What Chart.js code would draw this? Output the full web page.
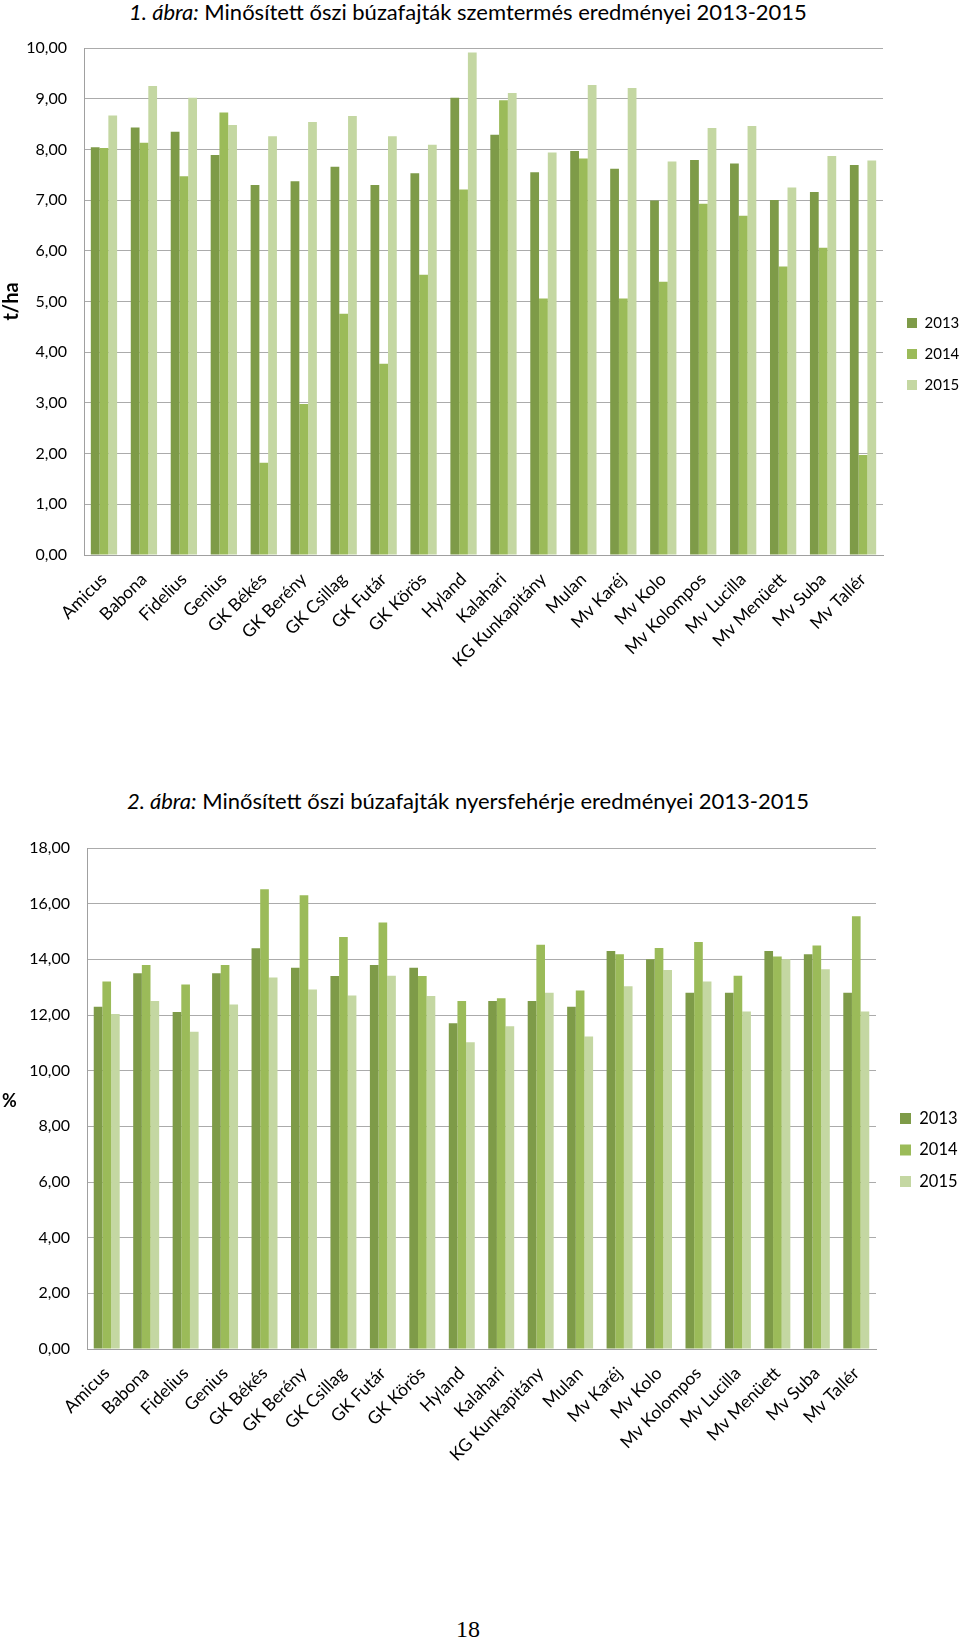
<!DOCTYPE html>
<html>
<head>
<meta charset="utf-8">
<script src="https://cdn.jsdelivr.net/npm/chart.js@4.4.0/dist/chart.umd.min.js"></script>
<style>
  body { margin: 0; background: #fff; width: 960px; height: 1639px; position: relative; overflow: hidden; font-family: Lato, sans-serif; color: #000; }
  .title { position: absolute; left: 0; width: 936px; text-align: center; font-size: 22px; line-height: 26px; }
  .box { position: absolute; left: 0; width: 960px; }
  #pct { position: absolute; left: 2px; top: 1089px; font-weight: bold; font-size: 18px; }
  #page { position: absolute; left: 0; width: 936px; top: 1616px; text-align: center; font-family: "Liberation Serif", serif; font-size: 24px; }
</style>
</head>
<body>
<div class="title" style="top:-1px"><i>1. ábra:</i> Minősített őszi búzafajták szemtermés eredményei 2013-2015</div>
<div class="box" style="top:30px;height:670px"><canvas id="yieldChart"></canvas></div>

<div class="title" style="top:788px"><i>2. ábra:</i> Minősített őszi búzafajták nyersfehérje eredményei 2013-2015</div>
<div class="box" style="top:820px;height:680px"><canvas id="proteinChart"></canvas></div>
<div id="pct">%</div>
<div id="page">18</div>

<script>
const varieties = ["Amicus", "Babona", "Fidelius", "Genius", "GK Békés", "GK Berény", "GK Csillag", "GK Futár",
    "GK Körös", "Hyland", "Kalahari", "KG Kunkapitány", "Mulan", "Mv Karéj", "Mv Kolo", "Mv Kolompos",
    "Mv Lucilla", "Mv Menüett", "Mv Suba", "Mv Tallér"];
const years = ["2013", "2014", "2015"];
const yearColors = ["#7e9b48", "#9bbb59", "#c4d7a2"];

// * szemtermés, t/ha
const yield2013 = [8.04, 8.43, 8.35, 7.89, 7.30, 7.37, 7.66, 7.30, 7.53, 9.02, 8.29, 7.55, 7.97, 7.62, 6.99, 7.79, 7.72, 7.00, 7.16, 7.69];
const yield2014 = [8.03, 8.13, 7.47, 8.73, 1.82, 2.98, 4.76, 3.77, 5.53, 7.21, 8.97, 5.06, 7.82, 5.06, 5.39, 6.93, 6.69, 5.69, 6.06, 1.97];
const yield2015 = [8.67, 9.25, 9.02, 8.48, 8.26, 8.54, 8.66, 8.26, 8.09, 9.91, 9.11, 7.94, 9.27, 9.21, 7.76, 8.42, 8.46, 7.25, 7.87, 7.78];

// * nyersfehérje, %
const protein2013 = [12.30, 13.50, 12.11, 13.50, 14.40, 13.70, 13.40, 13.80, 13.70, 11.70, 12.50, 12.50, 12.30, 14.30, 14.00, 12.80, 12.80, 14.30, 14.18, 12.80];
const protein2014 = [13.20, 13.80, 13.10, 13.80, 16.52, 16.30, 14.80, 15.32, 13.40, 12.50, 12.60, 14.52, 12.88, 14.18, 14.41, 14.62, 13.41, 14.10, 14.50, 15.55];
const protein2015 = [12.04, 12.50, 11.40, 12.38, 13.35, 12.92, 12.70, 13.41, 12.68, 11.02, 11.60, 12.80, 11.23, 13.03, 13.62, 13.20, 12.13, 14.00, 13.64, 12.13];

const yieldMax = 10, yieldStep = 1;
const proteinMax = 18, proteinStep = 2;

const fmt = (v) => v.toFixed(2).replace(".", ",");

function makeChart(id, series, yMax, yStep, axisTitle, g) {
    const padding = { top: g.top, left: 0, right: 0, bottom: 0 };

    // * Fixed legend box so the plot keeps its place
    const layoutFix = {
        id: "layoutFix",
        beforeInit(chart) {
            const lg = chart.legend;
            const fit = lg.fit;
            lg.fit = function () {
                fit.call(this);
                this.width = g.width - g.right;
            };
        },
        afterLayout(chart) {
            const lg = chart.legend;
            const dx = g.legendX - g.legendPad - lg.left;
            const dy = g.legendMid - (lg.top + lg.bottom) / 2;
            lg.left += dx; lg.right += dx;
            lg.top += dy; lg.bottom += dy;
        },
    };

    const chart = new Chart(document.getElementById(id), {
        type: "bar",
        data: {
            labels: varieties,
            datasets: series.map((data, i) => ({
                label: years[i],
                data: data,
                backgroundColor: yearColors[i],
                borderWidth: 0,
                categoryPercentage: 0.658,
                barPercentage: 1.0,
            })),
        },
        options: {
            responsive: true,
            maintainAspectRatio: false,
            animation: false,
            layout: { padding: padding },
            plugins: {
                legend: {
                    position: "right",
                    labels: {
                        boxWidth: g.legendBox,
                        boxHeight: g.legendBox,
                        padding: g.legendPad,
                        color: "#000",
                        font: { family: "Lato", size: g.legendFont },
                    },
                },
                tooltip: { enabled: false },
            },
            scales: {
                x: {
                    grid: { display: false },
                    border: { display: true, color: "#a0a0a0", width: 1 },
                    ticks: {
                        autoSkip: false,
                        maxRotation: 45,
                        minRotation: 45,
                        padding: 6,
                        color: "#000",
                        font: { family: "Lato", size: 17.5 },
                    },
                    afterFit(scale) { scale.height = g.height - g.bottom; },
                },
                y: {
                    min: 0,
                    max: yMax,
                    // * invisible tick marks make the gap between labels and axis
                    grid: { color: "#ababab", lineWidth: 1, drawTicks: true, tickLength: 17, tickColor: "rgba(0,0,0,0)" },
                    border: { display: true, color: "#a0a0a0", width: 1 },
                    ticks: {
                        stepSize: yStep,
                        padding: 0,
                        color: "#000",
                        font: { family: "Lato", size: 16 },
                        callback: (v) => fmt(v),
                    },
                    title: axisTitle
                        ? { display: true, text: axisTitle, color: "#000", padding: 0, font: { family: "Lato", size: 20, weight: "bold" } }
                        : { display: false },
                    afterFit(scale) { scale.width = g.left; },
                },
            },
        },
        plugins: [layoutFix],
    });

    // * Nudge the top padding until the plot top sits where it should
    for (let i = 0; i < 4; i++) {
        const dt = g.top - chart.chartArea.top;
        if (Math.abs(dt) < 0.5) break;
        padding.top += dt;
        chart.update();
    }
    return chart;
}

makeChart("yieldChart", [yield2013, yield2014, yield2015], yieldMax, yieldStep, "t/ha",
    { width: 960, height: 670, left: 84, right: 883, top: 18, bottom: 525,
      legendX: 907, legendPad: 16, legendBox: 10, legendFont: 15, legendMid: 324 });

makeChart("proteinChart", [protein2013, protein2014, protein2015], proteinMax, proteinStep, null,
    { width: 960, height: 680, left: 87, right: 876, top: 28, bottom: 529,
      legendX: 900, legendPad: 15, legendBox: 11, legendFont: 16.5, legendMid: 330 });
</script>
</body>
</html>
